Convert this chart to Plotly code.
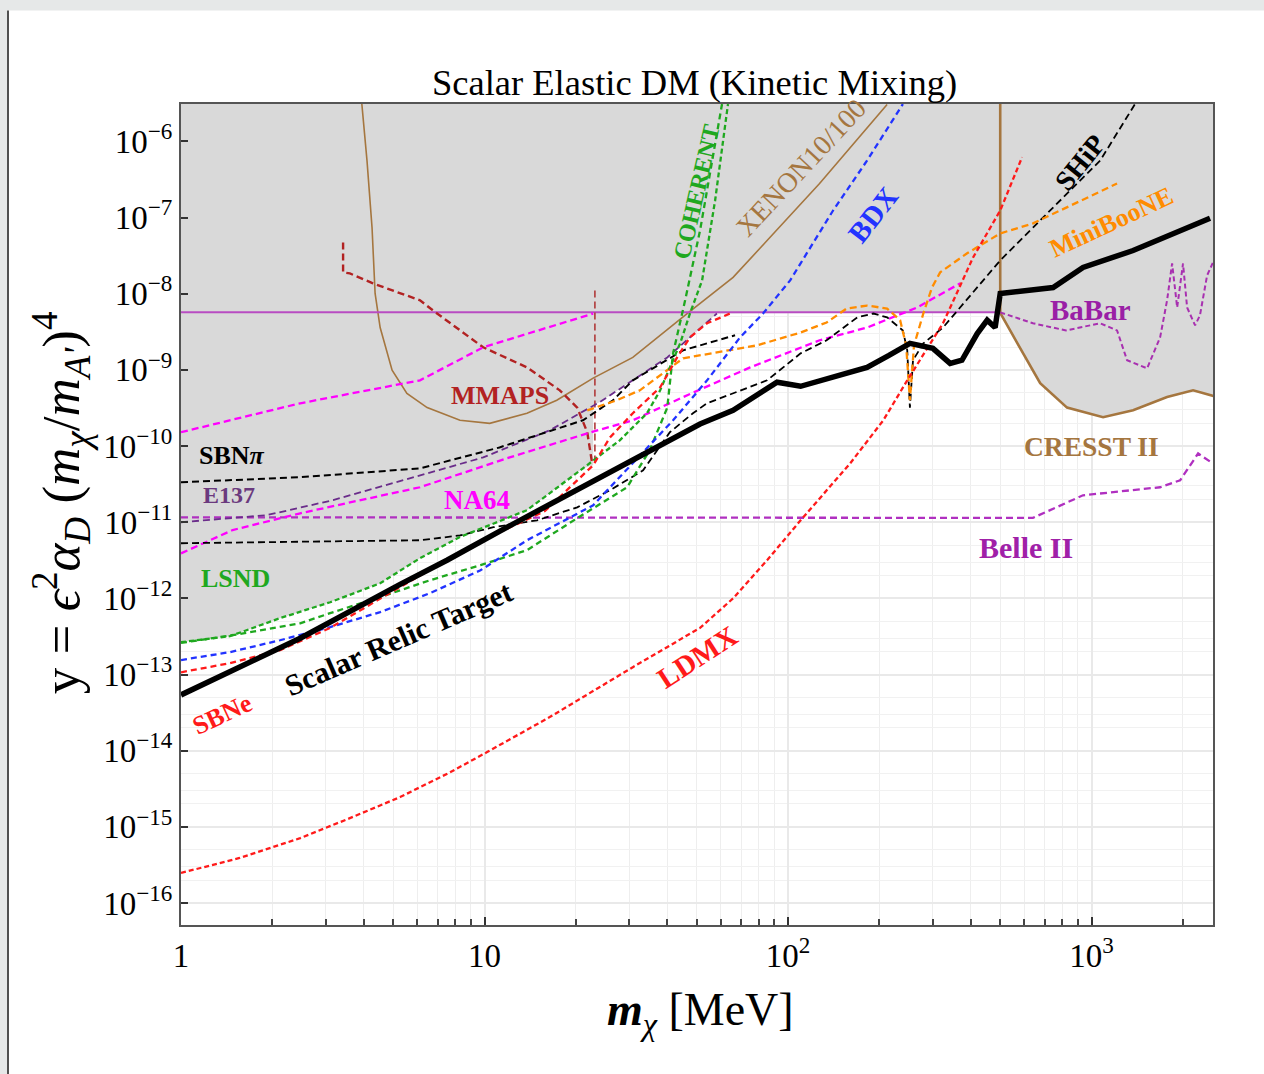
import plotly.graph_objects as go

# ---------------- data: x = m_chi [MeV], y = eps^2 alpha_D (m_chi/m_A')^4 ----------------
RELIC_X = [1, 1.56, 2.47, 5.27, 7.52, 11.2, 24, 40, 51.3, 65.9, 92, 110, 140, 182, 215, 252, 300, 342, 374, 420,
           453, 481, 500, 641, 747, 937, 1370, 2456]
RELIC_Y = [5.4e-14, 1.25e-13, 3.0e-13, 1.53e-12, 3.17e-12, 7.6e-12, 3.9e-11, 1.19e-10, 1.95e-10, 2.95e-10,
           6.9e-10, 6.1e-10, 8.0e-10, 1.08e-9, 1.55e-9, 2.23e-9, 1.92e-9, 1.22e-9, 1.34e-9, 3.0e-9, 4.5e-9,
           3.6e-9, 1.01e-8, 1.11e-8, 1.21e-8, 2.22e-8, 3.7e-8, 9.8e-8]

LDMX_X = [1, 1.56, 2.47, 3.6, 5.27, 7.7, 10.2, 16.4, 30.8, 51.3, 65.9, 85.3, 110, 160, 206, 247, 324, 407, 500, 590]
LDMX_Y = [2.48e-16, 3.9e-16, 7.1e-16, 1.3e-15, 2.46e-15, 5.2e-15, 9.6e-15, 2.76e-14, 1.25e-13, 4.1e-13,
          1.0e-12, 3.17e-12, 1.06e-11, 5.9e-11, 2.18e-10, 7.3e-10, 4.1e-9, 3.0e-8, 1.24e-7, 6.2e-7]

SBNE_X = [1, 1.45, 2.12, 3.1, 6.13, 11.2, 15.8, 22.8, 25.9, 30.8, 37.9, 43.1, 47.5, 54.1, 64.4]
SBNE_Y = [1.07e-13, 1.41e-13, 2.09e-13, 4.1e-13, 2.0e-12, 7.4e-12, 1.4e-11, 5.6e-11, 1.3e-10, 2.7e-10,
          5.9e-10, 1.46e-9, 2.68e-9, 4.1e-9, 5.5e-9]

BDX_X = [1, 1.45, 2.12, 3.1, 4.53, 6.61, 9.7, 13.8, 22.8, 32.5, 41.8, 54.1, 69.5, 82.7, 101.6, 140.7, 182, 239]
BDX_Y = [1.55e-13, 1.97e-13, 2.82e-13, 4.2e-13, 6.6e-13, 1.17e-12, 2.34e-12, 5.8e-12, 1.67e-11, 7.6e-11,
         2.18e-10, 7.3e-10, 2.68e-9, 5.5e-9, 1.5e-8, 1.24e-7, 5.6e-7, 3.1e-6]

LSND_X = [1, 1.45, 2.12, 3.1, 4.53, 6.13, 8.3, 13.8, 21.1, 27.9, 34.3, 37.9, 44.1, 47.5, 52.1, 57.5, 63.4]
LSND_Y = [2.66e-13, 3.19e-13, 5.5e-13, 8.9e-13, 1.58e-12, 3.37e-12, 6.4e-12, 1.44e-11, 5.1e-11, 1.19e-10,
          2.7e-10, 5.4e-10, 2.23e-9, 5.5e-9, 1.5e-8, 1.68e-7, 3.1e-6]

COHERENT_X = [1, 1.56, 2.47, 3.1, 4.53, 6.61, 9.7, 13.8, 20.2, 29.5, 35, 40, 41.8, 45.8, 51.3, 60.6]
COHERENT_Y = [2.6e-13, 3.4e-13, 4.7e-13, 6.4e-13, 1.04e-12, 1.73e-12, 2.73e-12, 4.3e-12, 1.13e-11, 2.88e-11,
              8.8e-11, 3.2e-10, 1.65e-9, 8.2e-9, 6.8e-8, 3.1e-6]

SBNPI_X = [1, 2.47, 6.13, 11.2, 21.1, 26.5, 30.8, 45.1, 66.9]
SBNPI_Y = [3.35e-11, 3.9e-11, 5.1e-11, 9.6e-11, 2.18e-10, 4.0e-10, 7.3e-10, 1.81e-9, 2.85e-9]

SBN_SHIP_X = [1, 2.47, 6.13, 8.3, 10.7, 14.9, 20.2, 25.9, 33.3, 40.8, 48.6, 54.1, 85.3, 110, 134, 169, 191, 212,
              239, 247, 252, 258, 279, 324, 369, 500, 641, 787, 1067, 1390]
SBN_SHIP_Y = [5.3e-12, 5.5e-12, 5.8e-12, 6.7e-12, 8.6e-12, 1.06e-11, 1.57e-11, 2.63e-11, 4.8e-11, 1.52e-10,
              2.7e-10, 3.65e-10, 7.3e-10, 1.65e-9, 2.45e-9, 4.9e-9, 5.5e-9, 4.9e-9, 3.3e-9, 1.81e-9, 3.2e-10,
              1.34e-9, 2.23e-9, 3.6e-9, 6.6e-9, 2.74e-8, 7.4e-8, 1.68e-7, 5.6e-7, 3.1e-6]

MINIBOONE_X = [21.8, 27.3, 32.5, 40, 45.1, 58.3, 79, 110, 134, 156, 182, 212, 234, 245, 252, 260, 279, 298, 317,
               389, 500, 641, 824, 1213]
MINIBOONE_Y = [2.95e-10, 4.0e-10, 5.4e-10, 9.9e-10, 1.42e-9, 1.7e-9, 2.1e-9, 3.1e-9, 4.2e-9, 6.4e-9, 7.0e-9,
               6.4e-9, 4.5e-9, 2.1e-9, 4.0e-10, 2.1e-9, 5.5e-9, 1.21e-8, 1.91e-8, 3.4e-8, 6.2e-8, 8.4e-8,
               1.36e-7, 2.8e-7]

NA64_X = [1, 2.47, 6.13, 9.9, 22.8]
NA64_Y = [1.52e-10, 3.65e-10, 7.3e-10, 1.98e-9, 5.5e-9]
NA64_PROJ_X = [1, 1.48, 2.47, 6.13, 12.1, 21.8, 30.8, 45.1, 75, 127, 182, 266, 369]
NA64_PROJ_Y = [3.9e-12, 7.9e-12, 1.31e-11, 2.88e-11, 7.1e-11, 1.47e-10, 2.18e-10, 4.4e-10, 1.08e-9, 2.45e-9,
               3.6e-9, 6.6e-9, 1.37e-8]

E137_X = [1, 1.92, 3.17, 6.13, 9.9, 16.4, 24, 30.8, 40, 58.3]
E137_Y = [1.0e-11, 1.24e-11, 1.95e-11, 4.1e-11, 7.1e-11, 1.61e-10, 3.8e-10, 7.3e-10, 1.46e-9, 5.5e-9]

BELLE_X = [1, 641, 937, 1682, 1958, 2244, 2512]
BELLE_Y = [1.16e-11, 1.14e-11, 2.26e-11, 2.88e-11, 3.56e-11, 8.0e-11, 5.9e-11]

BABAR_X = [1, 500]
BABAR_Y = [5.7e-9, 5.7e-9]
BABAR_TAIL_X = [500, 641, 824, 1067, 1213, 1309, 1524, 1682, 1773, 1842, 1914, 2001, 2064, 2193, 2275, 2402, 2512]
BABAR_TAIL_Y = [5.7e-9, 4.1e-9, 3.3e-9, 4.1e-9, 3.3e-9, 1.34e-9, 1.05e-9, 2.68e-9, 8.2e-9, 2.5e-8, 6.6e-9,
                2.5e-8, 6.6e-9, 3.85e-9, 5.2e-9, 1.74e-8, 2.58e-8]

CRESST_X = [500, 500, 539, 613, 677, 830, 1091, 1370, 1773, 2160, 2600]
CRESST_Y = [1e-5, 5.6e-9, 3.3e-9, 1.34e-9, 6.7e-10, 3.2e-10, 2.39e-10, 2.95e-10, 4.4e-10, 5.4e-10, 4.4e-10]

XENON_X = [3.9, 4.1, 4.26, 4.36, 4.53, 4.96, 5.55, 6.47, 8.3, 10.4, 13.8, 17.3, 22.8, 30.8, 46.5, 65.9, 85.3, 127, 212]
XENON_Y = [5e-6, 5.6e-7, 7.4e-8, 1.01e-8, 3.6e-9, 9.9e-10, 4.9e-10, 3.2e-10, 2.18e-10, 1.99e-10, 2.7e-10,
           4.0e-10, 7.8e-10, 1.46e-9, 5.5e-9, 1.64e-8, 5.0e-8, 2.8e-7, 3.06e-6]

MMAPS_X = [3.42, 3.42, 3.6, 4.29, 6.13, 6.76, 9.9, 13.8, 17.7, 20.2, 21.8, 22.6]
MMAPS_Y = [4.7e-8, 1.91e-8, 1.85e-8, 1.37e-8, 8.2e-9, 6.05e-9, 1.98e-9, 1.08e-9, 5.4e-10, 3.2e-10, 1.52e-10, 6.1e-11]
MMAPS_EDGE_X = [23.1, 23.1]
MMAPS_EDGE_Y = [6.1e-11, 1.11e-8]

# excluded (grey) region boundary
EXCL_X = [1, 1, 1.45, 2.12, 3.1, 4.53, 6.13, 8.3, 13.8, 21.1, 22.8, 22.8, 24, 30.8, 40, 58.3, 500, 500, 539, 613,
          677, 830, 1091, 1370, 1773, 2160, 2600, 2600]
EXCL_Y = [1e-5, 2.66e-13, 3.19e-13, 5.5e-13, 8.9e-13, 1.58e-12, 3.37e-12, 6.4e-12, 1.44e-11, 5.1e-11, 5.6e-11,
          3.4e-10, 3.8e-10, 7.3e-10, 1.46e-9, 5.5e-9, 5.7e-9, 5.6e-9, 3.3e-9, 1.34e-9, 6.7e-10, 3.2e-10,
          2.39e-10, 2.95e-10, 4.4e-10, 5.4e-10, 4.4e-10, 1e-5]

X_TICKS = [1, 10, 100, 1000]
X_TICKTEXT = ["1", "10", "10<sup>2</sup>", "10<sup>3</sup>"]
Y_TICKS = [1e-16, 1e-15, 1e-14, 1e-13, 1e-12, 1e-11, 1e-10, 1e-9, 1e-8, 1e-7, 1e-6]
Y_TICKTEXT = ["10<sup>\u221216</sup>", "10<sup>\u221215</sup>", "10<sup>\u221214</sup>", "10<sup>\u221213</sup>",
              "10<sup>\u221212</sup>", "10<sup>\u221211</sup>", "10<sup>\u221210</sup>", "10<sup>\u22129</sup>",
              "10<sup>\u22128</sup>", "10<sup>\u22127</sup>", "10<sup>\u22126</sup>"]

SERIF = "Liberation Serif, Times New Roman, serif"

GREEN = "#1fa81f"
BLUE = "#2233ff"
RED = "#ff1a1a"
MAGENTA = "#ff00ff"
ORANGE = "#ff8c00"
PURPLE = "#6a2c8a"
BELLE_C = "#b030c0"
BABAR_C = "#b84cc2"
BROWN = "#a5763f"
DARKRED = "#b22222"

fig = go.Figure()

fig.add_trace(go.Scatter(x=EXCL_X, y=EXCL_Y, mode="lines", fill="toself", fillcolor="#d9d9d9",
                         line=dict(width=0), hoverinfo="skip"))


def add_line(x, y, color, width=2.3, dash="7px,4px"):
    fig.add_trace(go.Scatter(x=x, y=y, mode="lines", line=dict(color=color, width=width, dash=dash),
                             hoverinfo="skip"))


add_line(XENON_X, XENON_Y, BROWN, 1.6, "solid")
add_line(CRESST_X, CRESST_Y, BROWN, 2.6, "solid")
add_line(BABAR_X, BABAR_Y, BABAR_C, 2.0, "solid")
add_line(BABAR_TAIL_X, BABAR_TAIL_Y, "#a830b0", 2.0, "5px,3px")
add_line(MMAPS_X, MMAPS_Y, DARKRED, 2.4)
add_line(MMAPS_EDGE_X, MMAPS_EDGE_Y, "#b03a3a", 1.6)
add_line(BELLE_X, BELLE_Y, BELLE_C, 2.3)
add_line(E137_X, E137_Y, PURPLE, 1.8)
add_line(NA64_X, NA64_Y, MAGENTA, 2.3)
add_line(NA64_PROJ_X, NA64_PROJ_Y, MAGENTA, 2.3)
add_line(SBNPI_X, SBNPI_Y, "black", 2.0)
add_line(SBN_SHIP_X, SBN_SHIP_Y, "black", 1.8)
add_line(MINIBOONE_X, MINIBOONE_Y, ORANGE, 2.3)
add_line(LSND_X, LSND_Y, GREEN, 2.3, "5px,3px")
add_line(COHERENT_X, COHERENT_Y, GREEN, 2.3, "6px,4px")
add_line(BDX_X, BDX_Y, BLUE, 2.3, "6px,4px")
add_line(LDMX_X, LDMX_Y, RED, 2.3, "5px,3px")
add_line(SBNE_X, SBNE_Y, RED, 2.3, "6px,4px")
add_line(RELIC_X, RELIC_Y, "black", 5.5, "solid")


def px_x(p):
    return (p - 181) / 1032.0


def px_y(p):
    return (925 - p) / 821.5


def label(text, xp, yp, color, size, angle=0, bold=True):
    fig.add_annotation(x=px_x(xp), y=px_y(yp), xref="paper", yref="paper", showarrow=False,
                       text=("<b>%s</b>" % text) if bold else text, textangle=angle,
                       font=dict(family=SERIF, size=size, color=color), xanchor="center", yanchor="middle")


label("SBN<i>\u03c0</i>", 232, 455, "black", 26)
label("E137", 229, 495, "#6b3a7e", 24)
label("NA64", 477, 500, MAGENTA, 27)
label("LSND", 235, 578, GREEN, 26)
label("MMAPS", 500, 395, DARKRED, 26)
label("Scalar Relic Target", 398, 638, "black", 30, -23.5)
label("SBNe", 222, 714, RED, 26, -25)
label("LDMX", 697, 657, RED, 29, -33)
label("COHERENT", 697, 192, GREEN, 24, -77)
label("XENON10/100", 801, 167, BROWN, 28, -47, bold=False)
label("BDX", 873, 215, BLUE, 29, -52)
label("SHiP", 1080, 162, "black", 28, -51)
label("MiniBooNE", 1111, 222, ORANGE, 26, -25)
label("BaBar", 1090, 310, "#9a1fa6", 29)
label("CRESST II", 1091, 446, BROWN, 27.5)
label("Belle II", 1026, 547, "#a020a8", 30)

# title and axis titles
fig.add_annotation(x=px_x(694), y=px_y(82), xref="paper", yref="paper", showarrow=False,
                   xanchor="center", yanchor="middle",
                   text="Scalar Elastic DM (Kinetic Mixing)", font=dict(family=SERIF, size=36.5, color="black"))
fig.add_annotation(x=px_x(700), y=px_y(1013), xref="paper", yref="paper", showarrow=False,
                   xanchor="center", yanchor="middle",
                   text="<i><b>m</b></i><sub><i>\u03c7</i></sub> [MeV]", font=dict(family=SERIF, size=46, color="black"))
fig.add_annotation(x=px_x(61), y=px_y(503), xref="paper", yref="paper", showarrow=False, textangle=-90,
                   xanchor="center", yanchor="middle",
                   text="y = <i>\u03f5</i><sup>2</sup><i>\u03b1</i><sub><i>D</i></sub> (<i>m</i><sub><i>\u03c7</i></sub>/<i>m</i><sub><i>A'</i></sub>)<sup>4</sup>",
                   font=dict(family=SERIF, size=53, color="black"))

# screenshot frame
fig.add_shape(type="rect", xref="paper", yref="paper", x0=px_x(-5), x1=px_x(7), y0=px_y(1080), y1=px_y(-5),
              fillcolor="#e6e8e8", line=dict(width=0), layer="above")
fig.add_shape(type="rect", xref="paper", yref="paper", x0=px_x(-5), x1=px_x(1270), y0=px_y(10), y1=px_y(-5),
              fillcolor="#e6e8e8", line=dict(width=0), layer="above")
fig.add_shape(type="line", xref="paper", yref="paper", x0=px_x(8), x1=px_x(8), y0=px_y(1080), y1=px_y(10),
              line=dict(color="#505050", width=2), layer="above")

MINOR_X = [m * 10 ** e for e in range(4) for m in range(2, 10)]
MINOR_Y = [m * 10.0 ** e for e in range(-17, -5) for m in (2, 3, 5)]

fig.update_xaxes(type="log", range=[0, 3.4], tickvals=X_TICKS, ticktext=X_TICKTEXT,
                 ticks="inside", ticklen=8, tickwidth=1.5, tickcolor="#333",
                 showline=True, linecolor="#555", linewidth=2, mirror=True,
                 showgrid=True, gridcolor="#e9e9e9", gridwidth=1.5, zeroline=False,
                 tickfont=dict(family=SERIF, size=33, color="black"),
                 minor=dict(tickvals=MINOR_X, ticks="inside", ticklen=6, tickcolor="#444",
                            showgrid=True, gridcolor="#eeeeee", gridwidth=1.2))
fig.update_yaxes(type="log", range=[-16.289, -5.508], tickvals=Y_TICKS, ticktext=Y_TICKTEXT,
                 ticks="inside", ticklen=7, tickwidth=1.5, tickcolor="#333",
                 showline=True, linecolor="#555", linewidth=2, mirror=True,
                 showgrid=True, gridcolor="#e9e9e9", gridwidth=1.5, zeroline=False,
                 tickfont=dict(family=SERIF, size=33, color="black"),
                 minor=dict(tickvals=MINOR_Y, ticks="", showgrid=True, gridcolor="#f1f1f1", gridwidth=1.2))

fig.update_layout(width=1264, height=1074, margin=dict(l=181, r=51, t=104, b=149),
                  paper_bgcolor="white", plot_bgcolor="white", showlegend=False)

fig.write_html("out.html")
